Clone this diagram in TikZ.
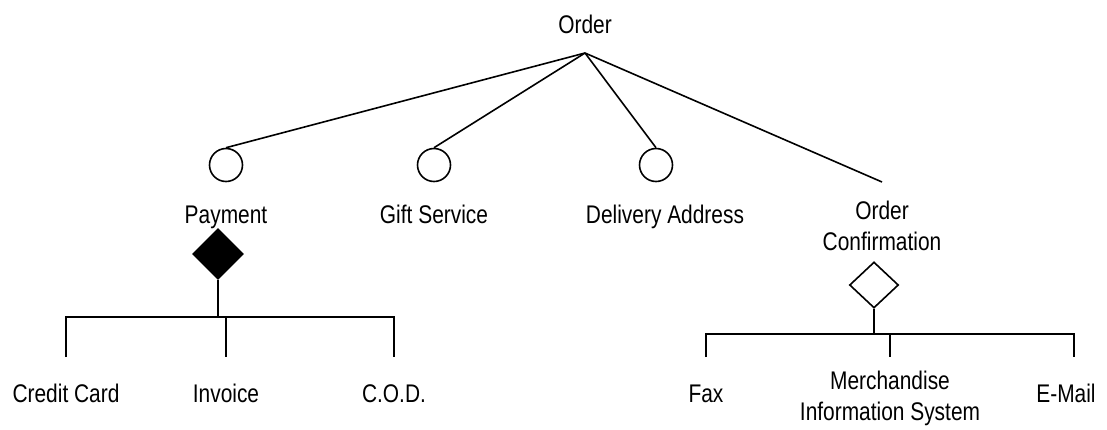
\documentclass[tikz,border=0pt]{standalone}
\usepackage{fontspec}
\setmainfont[FakeStretch=0.82]{Liberation Sans}
\usetikzlibrary{shapes.geometric}
\tikzset{
  feat/.style={inner sep=0pt, anchor=base, align=center, font=\fontsize{25.5}{31}\selectfont},
  optional/.style={circle, draw, fill=white, minimum size=33pt, inner sep=0pt},
  xorgrp/.style={diamond, draw, fill=black, minimum width=50pt, minimum height=50pt, inner sep=0pt},
  orgrp/.style={diamond, draw, fill=white, minimum width=49pt, minimum height=46pt, inner sep=0pt},
}

\begin{document}
\begin{tikzpicture}[x=1pt, y=-1pt, line width=1.6pt]
  \useasboundingbox (0,0) rectangle (1107,429);
  % Root
  \node[feat] (order) at (585,33) {Order};
  \coordinate (root) at (585,53);
  % Sub-features (base anchor sits on the last line)
  \node[optional] (payopt) at (226,165) {};
  \node[optional] (giftopt) at (434,165) {};
  \node[optional] (delopt) at (656,165) {};
  \coordinate (confend) at (882,182);
  \node[feat] (payment) at (226,223) {Payment};
  \node[feat] (gift) at (434,223) {Gift Service};
  \node[feat] (delivery) at (665,223) {Delivery Address};
  \node[feat] (confirm) at (882,250) {Order\\Confirmation};
  \foreach \f in {payopt,giftopt,delopt}
    \draw (root) -- (\f.north);
  \draw (root) -- (confend);
  % Payment alternatives
  \node[xorgrp] (payxor) at (218,254) {};
  \coordinate (paybar) at (218,317);
  \node[feat] (credit) at (66,402) {Credit Card};
  \node[feat] (invoice) at (226,402) {Invoice};
  \node[feat] (cod) at (394,402) {C.O.D.};
  \draw (payxor.south) -- (paybar);
  \draw (66,357) |- (394,317) -- (394,357);
  \draw (226,317) -- (226,357);
  % Confirmation channels
  \node[orgrp] (confor) at (874,285) {};
  \coordinate (confbar) at (874,334);
  \node[feat] (fax) at (706,402) {Fax};
  \node[feat] (mis) at (890,420) {Merchandise\\Information System};
  \node[feat] (email) at (1066,402) {E-Mail};
  \draw (confor.south) -- (confbar);
  \draw (706,357) |- (1074,334) -- (1074,357);
  \draw (890,334) -- (890,357);
\end{tikzpicture}
\end{document}
